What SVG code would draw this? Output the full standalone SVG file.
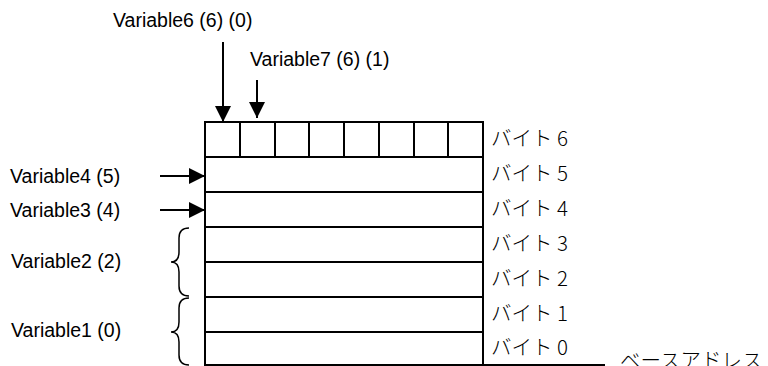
<svg xmlns="http://www.w3.org/2000/svg" width="768" height="366" viewBox="0 0 768 366">
<style>
.lbl{font-family:"Liberation Sans",Arial,sans-serif;font-size:19.5px;fill:#000}
.jp{font-family:"Noto Sans CJK JP","Noto Sans",sans-serif;font-size:20.5px;font-weight:300;fill:#000}
.ln{stroke:#000;stroke-width:2;fill:none}
.br{stroke:#000;stroke-width:1.5;fill:none}
</style>
<defs>
<marker id="ah" markerUnits="userSpaceOnUse" markerWidth="16" markerHeight="16" viewBox="0 0 16 16" refX="16" refY="8" orient="auto">
<path d="M0,0 L16,8 L0,16 Z" fill="#000"/>
</marker>
</defs>
<g id="memory">
<rect class="ln" x="205" y="122" width="278" height="243"/>
<path class="ln" d="M205,157H483M205,192H483M205,227H483M205,262H483M205,297H483M205,332H483"/>
<path class="ln" d="M240,122V157M275,122V157M309,122V157M344,122V157M379,122V157M414,122V157M448,122V157"/>
</g>
<g id="byte-labels">
<text class="jp" x="491" y="146">バイト 6</text>
<text class="jp" x="491" y="181">バイト 5</text>
<text class="jp" x="491" y="216">バイト 4</text>
<text class="jp" x="491" y="251">バイト 3</text>
<text class="jp" x="491" y="286">バイト 2</text>
<text class="jp" x="491" y="321">バイト 1</text>
<text class="jp" x="491" y="355">バイト 0</text>
</g>
<g id="base-address">
<text class="jp" x="620" y="368">ベースアドレス</text>
</g>
<g id="var6"><text class="lbl" x="113" y="27">Variable6 (6) (0)</text></g>
<g id="var7"><text class="lbl" x="250" y="66">Variable7 (6) (1)</text></g>
<g id="var4"><text class="lbl" x="10" y="183">Variable4 (5)</text></g>
<g id="var3"><text class="lbl" x="10" y="217">Variable3 (4)</text></g>
<g id="var2"><text class="lbl" x="11" y="268">Variable2 (2)</text></g>
<g id="var1"><text class="lbl" x="11" y="337">Variable1 (0)</text></g>
<g id="connectors">
<line class="ln" x1="223" y1="42" x2="223" y2="122" marker-end="url(#ah)"/>
<line class="ln" x1="257" y1="80" x2="257" y2="118" marker-end="url(#ah)"/>
<line class="ln" x1="160" y1="176" x2="205" y2="176" marker-end="url(#ah)"/>
<line class="ln" x1="160" y1="210" x2="205" y2="210" marker-end="url(#ah)"/>
<line class="ln" x1="483" y1="365" x2="605" y2="365"/>
<path class="br" d="M189,228 Q179,228 179,238 V252 Q179,262 171,262 Q179,262 179,272 V286 Q179,296 189,296"/>
<path class="br" d="M189,298 Q179,298 179,308 V322 Q179,332 171,332 Q179,332 179,342 V355 Q179,365 189,365"/>
</g>
</svg>
